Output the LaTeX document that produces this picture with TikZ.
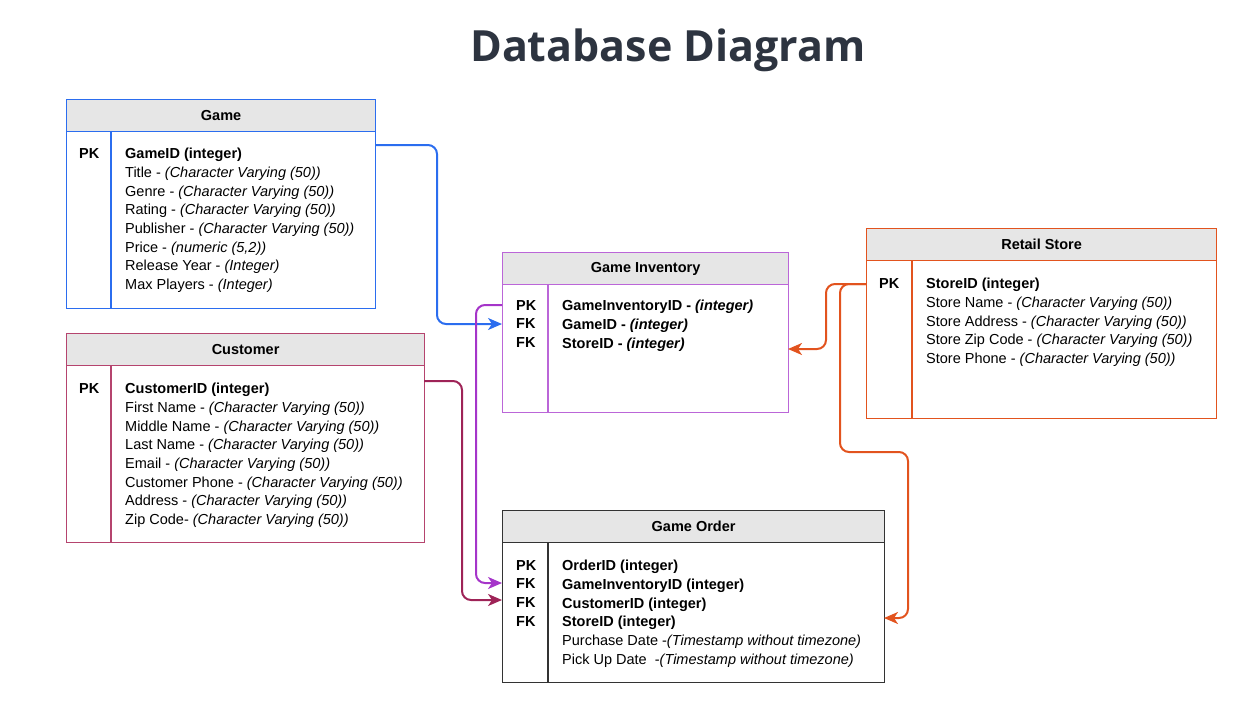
\documentclass[tikz,border=0pt]{standalone}
\usepackage{fontspec}
\setmainfont{Liberation Sans}
\newfontfamily\titlefont{Open Sans}
\usetikzlibrary{arrows.meta}

\definecolor{gameblue}{HTML}{2B6DEF}
\definecolor{custred}{HTML}{9E2357}
\definecolor{custedge}{HTML}{B5446E}
\definecolor{invpurple}{HTML}{A534C9}
\definecolor{invedge}{HTML}{BB66D8}
\definecolor{storeorange}{HTML}{E2531E}
\definecolor{orderedge}{HTML}{333333}
\definecolor{headgray}{HTML}{E6E6E6}
\definecolor{titleink}{HTML}{2D3440}

\tikzset{
  tablebox/.style={draw, line width=1.2pt, anchor=north west, inner sep=0pt},
  headbox/.style={draw, fill=headgray, line width=1.2pt, anchor=north west, inner sep=0pt,
    minimum height=32pt, font=\bfseries\fontsize{14.5}{17}\selectfont},
  keycol/.style={anchor=north west, inner sep=0pt, align=left,
    font=\bfseries\fontsize{14.5}{18.7}\selectfont},
  fieldcol/.style={anchor=north west, inner sep=0pt, align=left,
    font=\fontsize{14.5}{18.7}\selectfont},
  link/.style={line width=2pt, rounded corners=9pt,
    -{Stealth[length=14pt,width=12pt,inset=4pt]}},
}

\begin{document}
\begin{tikzpicture}[x=1pt,y=-1pt]
  \useasboundingbox (0,0) rectangle (1247,712);

  \node[anchor=base, text=titleink, font=\titlefont\bfseries\fontsize{43}{48}\selectfont] (title) at (668,61) {Database Diagram};

  % Game
  \node[tablebox, draw=gameblue, minimum width=309pt, minimum height=209pt] (game) at (66,99) {};
  \node[headbox, draw=gameblue, minimum width=309pt] (gamehead) at (66,99) {Game};
  \draw[gameblue, line width=1.2pt] (111,131) -- (111,308);
  \node[keycol] (gamekeys) at (79,148) {PK};
  \node[fieldcol] (gamefields) at (125,148) {\textbf{GameID (integer)}\\
    Title - \textit{(Character Varying (50))}\\
    Genre - \textit{(Character Varying (50))}\\
    Rating - \textit{(Character Varying (50))}\\
    Publisher - \textit{(Character Varying (50))}\\
    Price - \textit{(numeric (5,2))}\\
    Release Year - \textit{(Integer)}\\
    Max Players - \textit{(Integer)}};

  % Customer
  \node[tablebox, draw=custedge, minimum width=358pt, minimum height=209pt] (customer) at (66,333) {};
  \node[headbox, draw=custedge, minimum width=358pt] (customerhead) at (66,333) {Customer};
  \draw[custedge, line width=1.2pt] (111,365) -- (111,542);
  \node[keycol] (customerkeys) at (79,383) {PK};
  \node[fieldcol] (customerfields) at (125,383) {\textbf{CustomerID (integer)}\\
    First Name - \textit{(Character Varying (50))}\\
    Middle Name - \textit{(Character Varying (50))}\\
    Last Name - \textit{(Character Varying (50))}\\
    Email - \textit{(Character Varying (50))}\\
    Customer Phone - \textit{(Character Varying (50))}\\
    Address - \textit{(Character Varying (50))}\\
    Zip Code- \textit{(Character Varying (50))}};

  % Game Inventory
  \node[tablebox, draw=invedge, minimum width=286pt, minimum height=160pt] (inventory) at (502,252) {};
  \node[headbox, draw=invedge, minimum width=286pt] (inventoryhead) at (502,252) {Game Inventory};
  \draw[invedge, line width=1.2pt] (548,284) -- (548,412);
  \node[keycol] (inventorykeys) at (516,300) {PK\\FK\\FK};
  \node[fieldcol, font=\bfseries\fontsize{14.5}{18.7}\selectfont] (inventoryfields) at (562,300) {GameInventoryID - \textit{(integer)}\\
    GameID - \textit{(integer)}\\
    StoreID - \textit{(integer)}};

  % Retail Store
  \node[tablebox, draw=storeorange, minimum width=350pt, minimum height=190pt] (store) at (866,228) {};
  \node[headbox, draw=storeorange, minimum width=350pt] (storehead) at (866,228) {Retail Store};
  \draw[storeorange, line width=1.2pt] (912,260) -- (912,418);
  \node[keycol] (storekeys) at (879,278) {PK};
  \node[fieldcol] (storefields) at (926,278) {\textbf{StoreID (integer)}\\
    Store Name - \textit{(Character Varying (50))}\\
    Store Address - \textit{(Character Varying (50))}\\
    Store Zip Code - \textit{(Character Varying (50))}\\
    Store Phone - \textit{(Character Varying (50))}};

  % Game Order
  \node[tablebox, draw=orderedge, minimum width=382pt, minimum height=172pt] (order) at (502,510) {};
  \node[headbox, draw=orderedge, minimum width=382pt] (orderhead) at (502,510) {Game Order};
  \draw[orderedge, line width=1.2pt] (548,543) -- (548,682);
  \node[keycol] (orderkeys) at (516,560) {PK\\FK\\FK\\FK};
  \node[fieldcol] (orderfields) at (562,560) {\textbf{OrderID (integer)}\\
    \textbf{GameInventoryID (integer)}\\
    \textbf{CustomerID (integer)}\\
    \textbf{StoreID (integer)}\\
    Purchase Date -\textit{(Timestamp without timezone)}\\
    Pick Up Date~ -\textit{(Timestamp without timezone)}};

  % connector ends on the table borders
  \coordinate (gameout) at (375,145);
  \coordinate (inventorygame) at (502,324);
  \coordinate (inventoryout) at (502,305);
  \coordinate (inventorystore) at (788,349);
  \coordinate (customerout) at (424,381);
  \coordinate (storeout) at (866,284);
  \coordinate (orderinventory) at (502,583);
  \coordinate (ordercustomer) at (502,600);
  \coordinate (orderstore) at (884,618);

  \draw[link, gameblue] (gameout) -- (437,145) -- (437,324) -- (inventorygame);
  \draw[link, invpurple] (inventoryout) -- (476,305) -- (476,583) -- (orderinventory);
  \draw[link, custred] (customerout) -- (462,381) -- (462,600) -- (ordercustomer);
  \draw[link, storeorange] (storeout) -- (826,284) -- (826,349) -- (inventorystore);
  \draw[link, storeorange] (storeout) -- (840,284) -- (840,452) -- (908,452) -- (908,618) -- (orderstore);
\end{tikzpicture}
\end{document}
